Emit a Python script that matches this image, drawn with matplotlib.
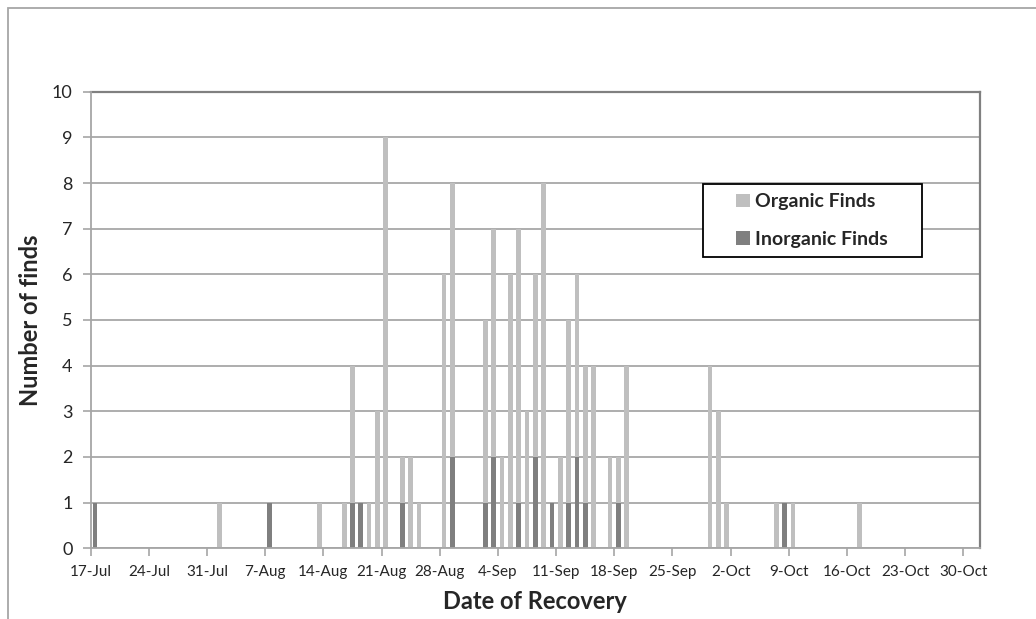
import datetime as dt

import matplotlib
matplotlib.use('Agg')
from matplotlib import pyplot as plt
from matplotlib.patches import Rectangle

# finds per day of recovery (day-month, same season)
organic_dates = ['1-Aug', '13-Aug', '16-Aug', '17-Aug', '19-Aug', '20-Aug', '21-Aug',
                 '23-Aug', '24-Aug', '25-Aug', '28-Aug', '29-Aug', '2-Sep', '3-Sep',
                 '4-Sep', '5-Sep', '6-Sep', '7-Sep', '8-Sep', '9-Sep', '11-Sep', '12-Sep',
                 '13-Sep', '14-Sep', '15-Sep', '17-Sep', '18-Sep', '19-Sep', '29-Sep',
                 '30-Sep', '1-Oct', '7-Oct', '9-Oct', '17-Oct']
organic_counts = [1, 1, 1, 4, 1, 3, 9,
                  2, 2, 1, 6, 8, 5, 7,
                  2, 6, 7, 3, 6, 8, 2, 5,
                  6, 4, 4, 2, 2, 4, 4,
                  3, 1, 1, 1, 1]

inorganic_dates = ['17-Jul', '7-Aug', '17-Aug', '18-Aug', '23-Aug', '29-Aug', '2-Sep',
                   '3-Sep', '6-Sep', '8-Sep', '10-Sep', '12-Sep', '13-Sep', '14-Sep',
                   '18-Sep', '8-Oct']
inorganic_counts = [1, 1, 1, 1, 1, 2, 1,
                    2, 1, 2, 1, 1, 2, 1,
                    1, 1]

tick_dates = ['17-Jul', '24-Jul', '31-Jul', '7-Aug', '14-Aug', '21-Aug', '28-Aug', '4-Sep',
              '11-Sep', '18-Sep', '25-Sep', '2-Oct', '9-Oct', '16-Oct', '23-Oct', '30-Oct']

START = dt.datetime.strptime('17-Jul-2001', '%d-%b-%Y')


def day_number(label):
    d = dt.datetime.strptime(label + '-2001', '%d-%b-%Y')
    return (d - START).days


plt.rcParams['font.family'] = ['Lato', 'DejaVu Sans']
text_color = '#262626'

fig = plt.figure(figsize=(10.36, 6.19), dpi=100)
W, H = 1036, 619
ax = fig.add_axes([90.7 / W, (H - 548.3) / H, (980 - 90.7) / W, (548.3 - 91.7) / H])

# outer chart frame (cropped at right and bottom)
fig.patches.append(Rectangle((7.5 / W, -0.1), 1.2, (H - 7.5) / H + 0.1,
                             transform=fig.transFigure, fill=False,
                             edgecolor='#a6a6a6', linewidth=1.3))

org_x = [day_number(d) + 0.5 for d in organic_dates]
ino_x = [day_number(d) + 0.5 for d in inorganic_dates]

ax.bar(org_x, organic_counts, width=0.56, color='#bfbfbf', label='Organic Finds', zorder=3)
ax.bar(ino_x, inorganic_counts, width=0.56, color='#7f7f7f', label='Inorganic Finds', zorder=4)

ax.set_xlim(0, 107)
ax.set_ylim(0, 10)
ax.set_yticks(range(0, 11))
ax.set_xticks([day_number(t) for t in tick_dates])
ax.set_xticklabels(tick_dates)

ax.grid(True, axis='y', color='#a0a0a0', linewidth=1.2, zorder=0)
ax.set_axisbelow(True)

for side in ['left', 'bottom']:
    ax.spines[side].set_color('#a6a6a6')
    ax.spines[side].set_linewidth(1.3)
    ax.spines[side].set_zorder(5)
for side in ['top', 'right']:
    ax.spines[side].set_color('#808080')
    ax.spines[side].set_linewidth(1.6)

ax.tick_params(axis='both', direction='out', length=6, width=1.2, color='#a6a6a6')
ax.tick_params(axis='y', labelsize=13, labelcolor=text_color, pad=7)
ax.tick_params(axis='x', labelsize=11, labelcolor=text_color, pad=6)

ax.set_xlabel('Date of Recovery', fontsize=17, fontweight='bold', color=text_color, labelpad=8)
ax.set_ylabel('Number of finds', fontsize=17, fontweight='bold', color=text_color, labelpad=7)

# legend box drawn separately so the padding matches the original
ax.add_patch(Rectangle((0.6885, 0.638), 0.2463, 0.160, transform=ax.transAxes,
                       facecolor='white', edgecolor='#000000', linewidth=1.3, zorder=9))
leg = ax.legend(loc='center left', bbox_to_anchor=(0.7256, 0.718), frameon=False,
                handlelength=0.7, handleheight=0.7, handletextpad=0.3, borderpad=0,
                labelspacing=1.05, borderaxespad=0,
                prop={'size': 14, 'weight': 'bold'})
for t in leg.get_texts():
    t.set_color(text_color)
leg.set_zorder(10)

plt.savefig('out.png', dpi=100)
plt.close()
